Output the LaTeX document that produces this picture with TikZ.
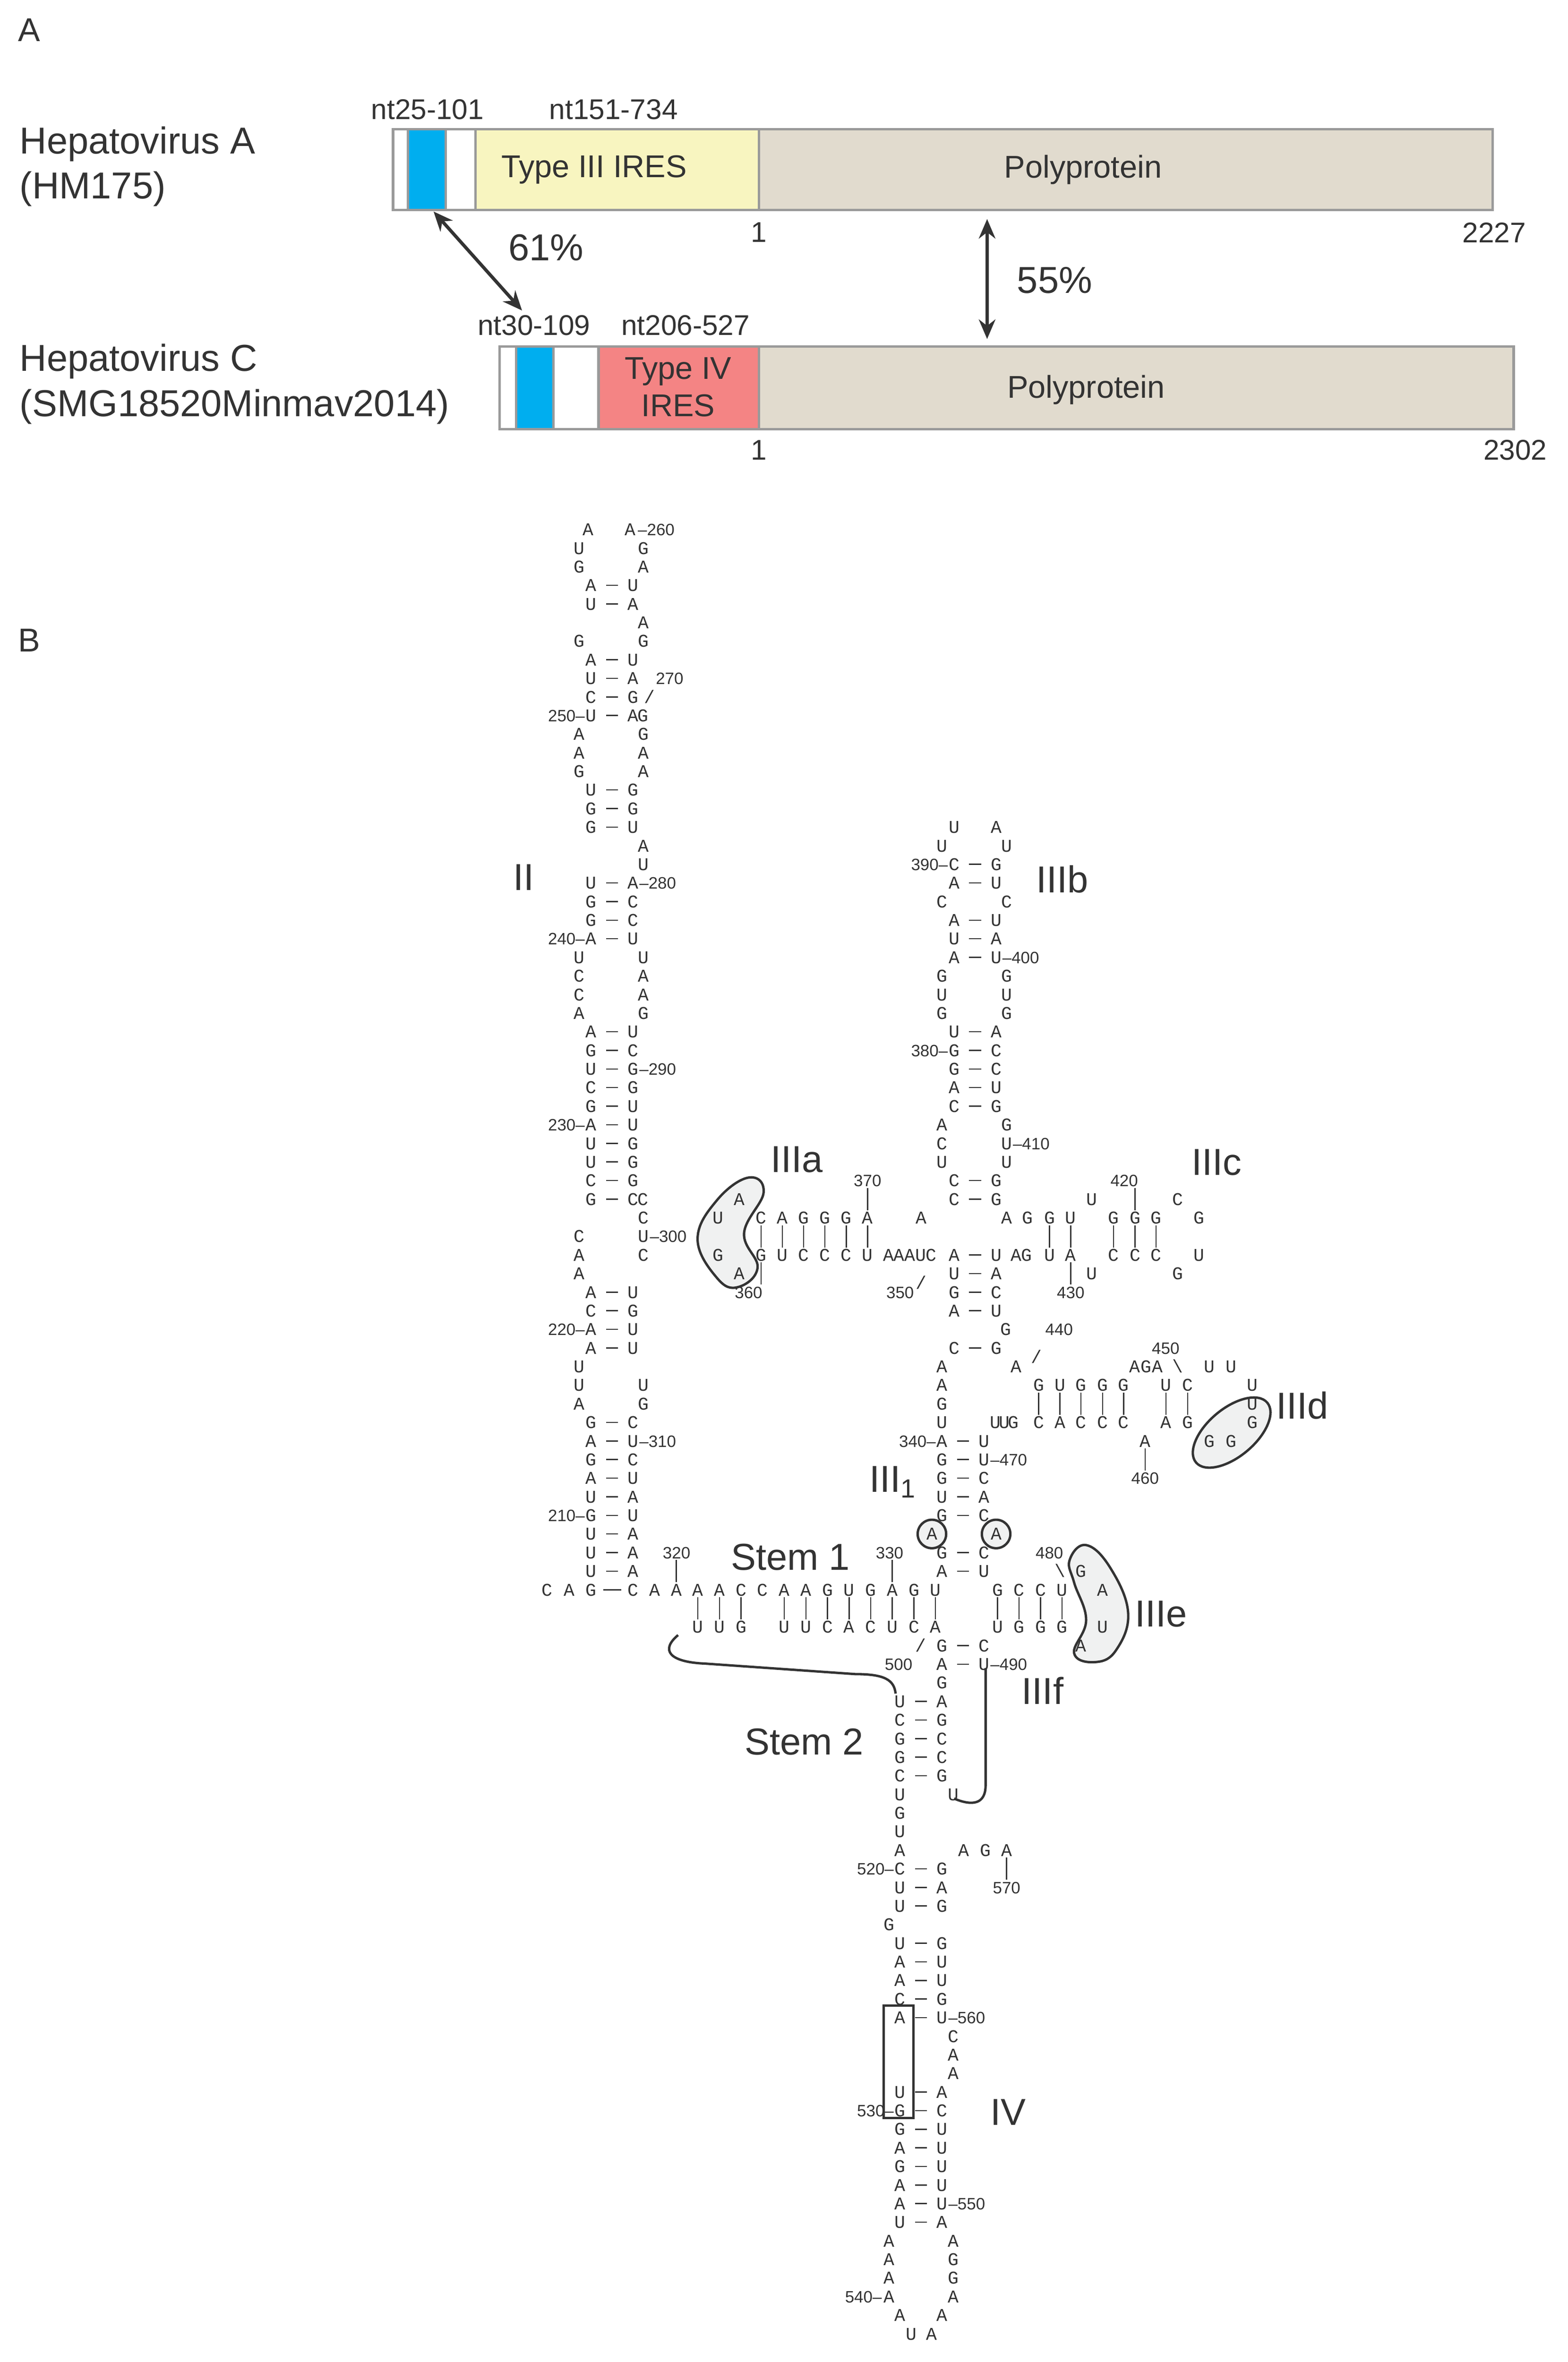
\documentclass[tikz,border=0pt]{standalone}
\usepackage{fontspec}
\setmainfont{Liberation Sans}
\newfontfamily\rnaf{Liberation Mono}
\newfontfamily\nf{Liberation Sans}
\definecolor{txt}{HTML}{333333}
\definecolor{bblue}{HTML}{00AEEF}
\definecolor{byel}{HTML}{F8F5C0}
\definecolor{bpink}{HTML}{F48484}
\definecolor{bbeige}{HTML}{E1DBCE}
\definecolor{bord}{HTML}{9A9A9A}
\definecolor{blobf}{HTML}{F0F1F1}
\newcounter{nn}
\newcommand\Y[1]{353+12.4*(#1)}
\newcommand\Lt[3]{\stepcounter{nn}\node[nt](n\arabic{nn}) at (#1,{\Y{#2}}) {#3};}
\newcommand\PP[4]{\stepcounter{nn}\node[nt](a\arabic{nn}) at (#1,{\Y{#2}}) {#3};\node[nt](b\arabic{nn}) at ({#1+28},{\Y{#2}}) {#4};\draw[pl,shorten <=10pt,shorten >=10pt] (a\arabic{nn}.center)--(b\arabic{nn}.center);}
\newcommand\NL[4]{\stepcounter{nn}\node[num,anchor=#4](m\arabic{nn}) at (#1,{\Y{#2}}) {#3};}
\newcommand\TK[3]{\draw[pl] (#1,{\Y{#2}+5}) -- (#1,{\Y{#3}-5});}
\tikzset{
 nt/.style={font=\rnaf\fontsize{12}{12}\selectfont, inner sep=0pt, text height=8pt, text depth=0pt, text=txt},
 num/.style={font=\nf\fontsize{11}{11}\selectfont, inner sep=0pt, text height=8pt, text depth=0pt, text=txt},
 big/.style={font=\fontsize{25}{27}\selectfont, text=txt, inner sep=0pt},
 pl/.style={line width=0.8pt, draw=txt},
 box/.style={draw=bord, line width=1.6pt},
 blob/.style={draw=txt, line width=1.6pt, fill=blobf},
 arr/.style={<->, >={Stealth[length=13pt,width=11pt]}, line width=2.2pt, draw=txt},
 bt/.style={text=txt, inner sep=0pt}
}
\usetikzlibrary{arrows.meta}
\begin{document}
\begin{tikzpicture}[x=1pt,y=-1pt]
\useasboundingbox (0,0) rectangle (1045,1574.6);
% ---------- Panel A ----------
\node[bt,font=\fontsize{22}{22}\selectfont,anchor=west] (lA) at (12,20) {A};
\node[bt,font=\fontsize{22}{22}\selectfont,anchor=west] (lB) at (12,427) {B};
\node[bt,font=\fontsize{25}{30}\selectfont,anchor=west,align=left] (hA) at (13,111) {Hepatovirus A\\(HM175)};
\node[bt,font=\fontsize{25}{30}\selectfont,anchor=west,align=left] (hC) at (13,256) {Hepatovirus C\\(SMG18520Minmav2014)};
% bar A
\fill[white] (262,86) rectangle (272,140);
\fill[bblue] (272,86) rectangle (297,140);
\fill[white] (297,86) rectangle (317,140);
\fill[byel] (317,86) rectangle (506,140);
\fill[bbeige] (506,86) rectangle (995,140);
\draw[box] (262,86) rectangle (995,140);
\foreach \x in {272,297,317,506} \draw[box] (\x,86)--(\x,140);
\node[bt,font=\fontsize{21}{21}\selectfont] (t3) at (396,113) {Type III IRES};
\node[bt,font=\fontsize{21}{21}\selectfont] (pA) at (722,113) {Polyprotein};
\node[bt,font=\fontsize{19}{19}\selectfont] (n1) at (285,73) {nt25-101};
\node[bt,font=\fontsize{19}{19}\selectfont] (n2) at (409,73) {nt151-734};
\node[bt,font=\fontsize{19}{19}\selectfont] (o1) at (506,155) {1};
\node[bt,font=\fontsize{19}{19}\selectfont] (e1) at (996,155) {2227};
% bar C
\fill[white] (333,231) rectangle (344,286);
\fill[bblue] (344,231) rectangle (369,286);
\fill[white] (369,231) rectangle (399,286);
\fill[bpink] (399,231) rectangle (506,286);
\fill[bbeige] (506,231) rectangle (1009,286);
\draw[box] (333,231) rectangle (1009,286);
\foreach \x in {344,369,399,506} \draw[box] (\x,231)--(\x,286);
\node[bt,font=\fontsize{21}{25}\selectfont,align=center] (t4) at (452,258) {Type IV\\IRES};
\node[bt,font=\fontsize{21}{21}\selectfont] (pC) at (724,260) {Polyprotein};
\node[bt,font=\fontsize{19}{19}\selectfont] (n3) at (356,217) {nt30-109};
\node[bt,font=\fontsize{19}{19}\selectfont] (n4) at (457,217) {nt206-527};
\node[bt,font=\fontsize{19}{19}\selectfont] (o2) at (506,300) {1};
\node[bt,font=\fontsize{19}{19}\selectfont] (e2) at (1010,300) {2302};
\coordinate (a1) at (289,141); \coordinate (a2) at (348,207);
\draw[arr] (a1)--(a2);
\coordinate (b1) at (658,146); \coordinate (b2) at (658,226);
\draw[arr] (b1)--(b2);
\node[bt,font=\fontsize{25}{25}\selectfont] (p61) at (364,165) {61\%};
\node[bt,font=\fontsize{25}{25}\selectfont] (p55) at (703,187) {55\%};
% ---------- Panel B big labels ----------
\node[big] (lII) at (349,585) {II};
\node[big] (lIIIa) at (531,773) {IIIa};
\node[big] (lIIIb) at (708,586) {IIIb};
\node[big] (lIIIc) at (811,775) {IIIc};
\node[big] (lIIId) at (868,937) {IIId};
\node[big] (lIII1) at (595,988) {III\textsubscript{1}};
\node[big] (lS1) at (527,1038) {Stem 1};
\node[big] (lIIIe) at (774,1076) {IIIe};
\node[big] (lIIIf) at (695,1127) {IIIf};
\node[big] (lS2) at (536,1161) {Stem 2};
\node[big] (lIV) at (672,1408) {IV};
% blobs
\draw[blob] plot[smooth cycle, tension=0.7] coordinates {(499,785) (509,795) (496,822) (505,845) (492,858) (478,852) (465,826) (478,800)};
\draw[blob, rotate around={40:(821,955)}] (821,955) ellipse [x radius=31pt, y radius=16pt];
\draw[blob] plot[smooth cycle, tension=0.7] coordinates {(724,1030) (740,1045) (752,1075) (744,1100) (730,1108) (716,1102) (724,1080) (716,1055) (713,1040)};
\draw[blob] (621.2,{\Y{54}}) circle (9.5pt);
\draw[blob] (664,{\Y{54}}) circle (9.5pt);
% ---------- Stem II ----------
\Lt{392}{0}{A}\Lt{420}{0}{A}\NL{425}{0}{–260}{west}
\Lt{386}{1}{U}\Lt{429}{1}{G}
\Lt{386}{2}{G}\Lt{429}{2}{A}
\PP{394}{3}{A}{U}
\PP{394}{4}{U}{A}
\Lt{429}{5}{A}
\Lt{386}{6}{G}\Lt{429}{6}{G}
\PP{394}{7}{A}{U}
\PP{394}{8}{U}{A}\NL{437}{8}{270}{west}
\PP{394}{9}{C}{G}\Lt{433}{9}{/}
\PP{394}{10}{U}{A}\Lt{428.5}{10}{G}\NL{390}{10}{250–}{east}
\Lt{386}{11}{A}\Lt{429}{11}{G}
\Lt{386}{12}{A}\Lt{429}{12}{A}
\Lt{386}{13}{G}\Lt{429}{13}{A}
\PP{394}{14}{U}{G}
\PP{394}{15}{G}{G}
\PP{394}{16}{G}{U}
\Lt{429}{17}{A}
\Lt{429}{18}{U}
\PP{394}{19}{U}{A}\NL{426}{19}{–280}{west}
\PP{394}{20}{G}{C}
\PP{394}{21}{G}{C}
\PP{394}{22}{A}{U}\NL{390}{22}{240–}{east}
\Lt{386}{23}{U}\Lt{429}{23}{U}
\Lt{386}{24}{C}\Lt{429}{24}{A}
\Lt{386}{25}{C}\Lt{429}{25}{A}
\Lt{386}{26}{A}\Lt{429}{26}{G}
\PP{394}{27}{A}{U}
\PP{394}{28}{G}{C}
\PP{394}{29}{U}{G}\NL{426}{29}{–290}{west}
\PP{394}{30}{C}{G}
\PP{394}{31}{G}{U}
\PP{394}{32}{A}{U}\NL{390}{32}{230–}{east}
\PP{394}{33}{U}{G}
\PP{394}{34}{U}{G}
\PP{394}{35}{C}{G}
\PP{394}{36}{G}{C}\Lt{428.5}{36}{C}
\Lt{429}{37}{C}
\Lt{386}{38}{C}\Lt{429}{38}{U}\NL{433}{38}{–300}{west}
\Lt{386}{39}{A}\Lt{429}{39}{C}
\Lt{386}{40}{A}
\PP{394}{41}{A}{U}
\PP{394}{42}{C}{G}
\PP{394}{43}{A}{U}\NL{390}{43}{220–}{east}
\PP{394}{44}{A}{U}
\Lt{386}{45}{U}
\Lt{386}{46}{U}\Lt{429}{46}{U}
\Lt{386}{47}{A}\Lt{429}{47}{G}
\PP{394}{48}{G}{C}
\PP{394}{49}{A}{U}\NL{426}{49}{–310}{west}
\PP{394}{50}{G}{C}
\PP{394}{51}{A}{U}
\PP{394}{52}{U}{A}
\PP{394}{53}{G}{U}\NL{390}{53}{210–}{east}
\PP{394}{54}{U}{A}
\PP{394}{55}{U}{A}\NL{451}{55}{320}{center}
\PP{394}{56}{U}{A}
% ---------- Stem 1 ----------
\Lt{364.7}{57}{C}\Lt{379.3}{57}{A}\Lt{393.9}{57}{G}\Lt{422}{57}{C}
\draw[pl] (402,{\Y{57}})--(414,{\Y{57}});
\foreach \i/\c in {1/A,2/A,3/A,4/A,5/C,6/C,7/A,8/A,9/G,10/U,11/G,12/A,13/G,14/U} {\Lt{422+14.4*\i}{57}{\c}}
\foreach \i/\c in {3/U,4/U,5/G,7/U,8/U,9/C,10/A,11/C,12/U,13/C,14/A} {\Lt{422+14.4*\i}{59}{\c}\TK{422+14.4*\i}{57}{59}}
\foreach \i/\c/\d in {0/G/U,1/C/G,2/C/G,3/U/G} {\Lt{665+14.3*\i}{57}{\c}\Lt{665+14.3*\i}{59}{\d}\TK{665+14.3*\i}{57}{59}}
\TK{450.8}{55}{57}
\TK{594.8}{55}{57}
% ---------- Central stem ----------
\Lt{636}{16}{U}\Lt{664}{16}{A}
\Lt{628}{17}{U}\Lt{671}{17}{U}
\PP{636}{18}{C}{G}\NL{632}{18}{390–}{east}
\PP{636}{19}{A}{U}
\Lt{628}{20}{C}\Lt{671}{20}{C}
\PP{636}{21}{A}{U}
\PP{636}{22}{U}{A}
\PP{636}{23}{A}{U}\NL{668}{23}{–400}{west}
\Lt{628}{24}{G}\Lt{671}{24}{G}
\Lt{628}{25}{U}\Lt{671}{25}{U}
\Lt{628}{26}{G}\Lt{671}{26}{G}
\PP{636}{27}{U}{A}
\PP{636}{28}{G}{C}\NL{632}{28}{380–}{east}
\PP{636}{29}{G}{C}
\PP{636}{30}{A}{U}
\PP{636}{31}{C}{G}
\Lt{628}{32}{A}\Lt{671}{32}{G}
\Lt{628}{33}{C}\Lt{671}{33}{U}\NL{675}{33}{–410}{west}
\Lt{628}{34}{U}\Lt{671}{34}{U}
\PP{636}{35}{C}{G}\NL{578.3}{35}{370}{center}\NL{749.4}{35}{420}{center}
\TK{578.3}{35}{37}\TK{756.6}{35}{37}
\PP{636}{36}{C}{G}\Lt{492.8}{36}{A}\Lt{727.7}{36}{U}\Lt{785.2}{36}{C}
% row 37
\Lt{478.7}{37}{U}
\foreach \i/\c in {0/C,1/A,2/G,3/G,4/G,5/A} {\Lt{507.3+14.2*\i}{37}{\c}}
\Lt{614}{37}{A}
\foreach \x/\c in {671/A,685/G,699.6/G,713.7/U,742.3/G,756.6/G,770.6/G,799.2/G} {\Lt{\x}{37}{\c}}
% row 39
\Lt{478.7}{39}{G}
\foreach \i/\c in {0/G,1/U,2/C,3/C,4/C,5/U} {\Lt{507.3+14.2*\i}{39}{\c}\TK{507.3+14.2*\i}{37}{39}}
\foreach \x/\c in {592.4/A,599.3/A,606.4/A,613.6/U,620.8/C} {\Lt{\x}{39}{\c}}
\PP{636}{39}{A}{U}
\foreach \x/\c in {677.4/A,684.3/G,699.6/U,713.7/A,742.3/C,756.6/C,770.6/C,799.2/U} {\Lt{\x}{39}{\c}}
\foreach \x in {699.6,713.7,742.3,756.6,770.6} {\TK{\x}{37}{39}}
\PP{636}{40}{U}{A}\Lt{492.8}{40}{A}\Lt{727.7}{40}{U}\Lt{785.2}{40}{G}
\node[nt] (sl350) at (614,{\Y{40.5}}) {/};
\PP{636}{41}{G}{C}\NL{499}{41}{360}{center}\NL{600}{41}{350}{center}\NL{713.7}{41}{430}{center}
\TK{507.3}{39}{41}\TK{713.7}{39}{41}
\PP{636}{42}{A}{U}
\Lt{670.4}{43}{G}\NL{706}{43}{440}{center}
\PP{636}{44}{C}{G}\node[nt] (sl440) at (691,{\Y{44.5}}) {/};\NL{777}{44}{450}{center}
% IIId
\Lt{628}{45}{A}\Lt{677.5}{45}{A}
\Lt{756.5}{45}{A}\Lt{764}{45}{G}\Lt{771.5}{45}{A}\Lt{785.2}{45}{\char`\\}\Lt{806.3}{45}{U}\Lt{820.8}{45}{U}
\Lt{628}{46}{A}
\foreach \x/\c/\d in {692.4/G/C,706.6/U/A,720.5/G/C,735/G/C,749/G/C,777.2/U/A,791.7/C/G} {\Lt{\x}{46}{\c}\Lt{\x}{48}{\d}\TK{\x}{46}{48}}
\Lt{834.7}{46}{U}\Lt{834.7}{47}{U}\Lt{834.7}{48}{G}
\Lt{628}{47}{G}
\Lt{628}{48}{U}\Lt{663.5}{48}{U}\Lt{669.5}{48}{U}\Lt{675.5}{48}{G}
\PP{628}{49}{A}{U}\NL{624}{49}{340–}{east}\Lt{763.3}{49}{A}\Lt{806.3}{49}{G}\Lt{820.8}{49}{G}
\PP{628}{50}{G}{U}\NL{660}{50}{–470}{west}\TK{763.3}{49}{51}
\PP{628}{51}{G}{C}\NL{763.3}{51}{460}{center}
\PP{628}{52}{U}{A}
\PP{628}{53}{G}{C}
\Lt{621.2}{54}{A}\Lt{664}{54}{A}
\PP{628}{55}{G}{C}\NL{593}{55}{330}{center}\NL{699.5}{55}{480}{center}
\PP{628}{56}{A}{U}\Lt{706.6}{56}{\char`\\}\Lt{720.5}{56}{G}
\Lt{735}{57}{A}\Lt{735}{59}{U}
\node[nt] (sl500) at (613.8,{\Y{60}}) {/};
\PP{628}{60}{G}{C}\Lt{720.5}{60}{A}
\PP{628}{61}{A}{U}\NL{599}{61}{500}{center}\NL{660}{61}{–490}{west}
% ---------- Stem 2 / IV ----------
\Lt{628}{62}{G}
\PP{600}{63}{U}{A}
\PP{600}{64}{C}{G}
\PP{600}{65}{G}{C}
\PP{600}{66}{G}{C}
\PP{600}{67}{C}{G}
\Lt{600}{68}{U}\Lt{635.5}{68}{U}
\Lt{600}{69}{G}
\Lt{600}{70}{U}
\Lt{600}{71}{A}\Lt{642.5}{71}{A}\Lt{656.8}{71}{G}\Lt{671}{71}{A}
\PP{600}{72}{C}{G}\NL{596}{72}{520–}{east}\TK{671}{71}{73}
\PP{600}{73}{U}{A}\NL{671}{73}{570}{center}
\PP{600}{74}{U}{G}
\Lt{592.5}{75}{G}
\PP{600}{76}{U}{G}
\PP{600}{77}{A}{U}
\PP{600}{78}{A}{U}
\PP{600}{79}{C}{G}
\PP{600}{80}{A}{U}\NL{632}{80}{–560}{west}
\Lt{635.5}{81}{C}
\Lt{635.5}{82}{A}
\Lt{635.5}{83}{A}
\PP{600}{84}{U}{A}
\PP{600}{85}{G}{C}\NL{596}{85}{530–}{east}
\PP{600}{86}{G}{U}
\PP{600}{87}{A}{U}
\PP{600}{88}{G}{U}
\PP{600}{89}{A}{U}
\PP{600}{90}{A}{U}\NL{632}{90}{–550}{west}
\PP{600}{91}{U}{A}
\Lt{592.5}{92}{A}\Lt{635.5}{92}{A}
\Lt{592.5}{93}{A}\Lt{635.5}{93}{G}
\Lt{592.5}{94}{A}\Lt{635.5}{94}{G}
\Lt{592.5}{95}{A}\Lt{635.5}{95}{A}\NL{588}{95}{540–}{east}
\Lt{600}{96}{A}\Lt{628}{96}{A}
\Lt{607.3}{97}{U}\Lt{621}{97}{A}
\draw[draw=txt,line width=1.5pt] (589,1337) rectangle (609,1412);
% brackets
\draw[draw=txt,line width=1.6pt] (452,1090) .. controls (440,1100) and (446,1108) .. (470,1109) -- (570,1116) .. controls (590,1116) and (596,1120) .. (597,1129);
\draw[draw=txt,line width=1.6pt] (657,1112) -- (657,1190) .. controls (657,1203) and (648,1204) .. (636,1199);
\end{tikzpicture}
\end{document}
